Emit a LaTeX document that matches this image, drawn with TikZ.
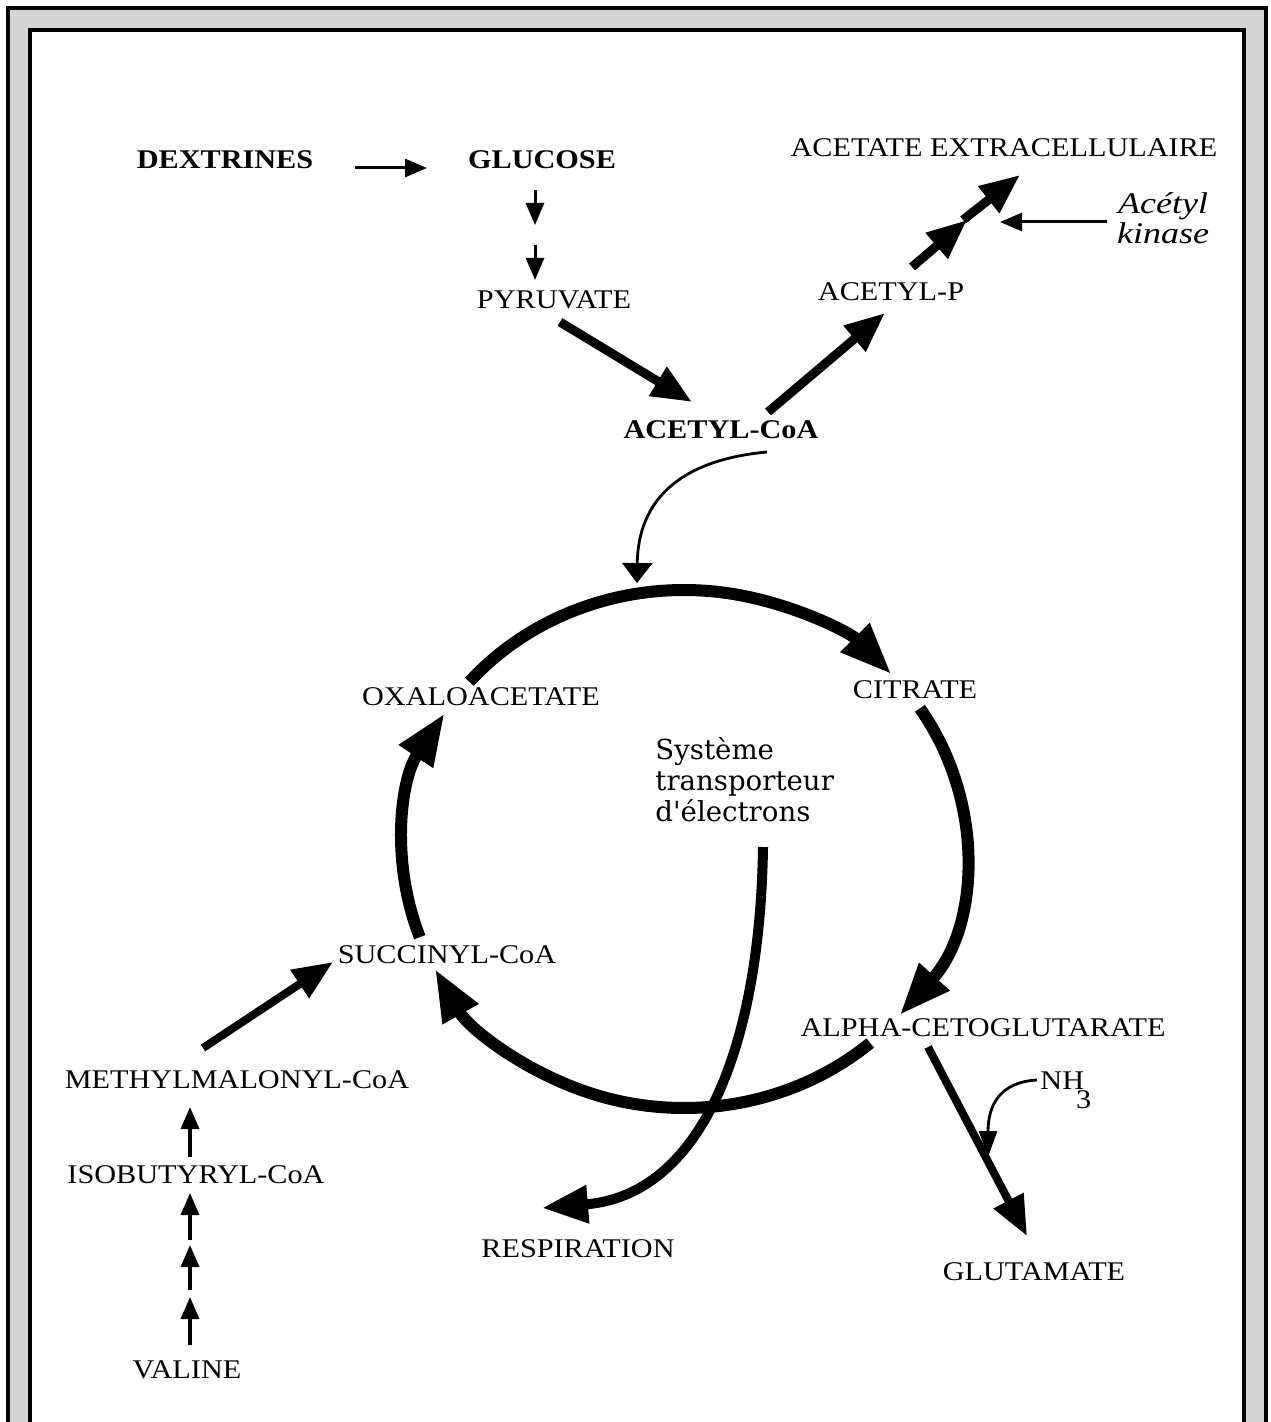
\documentclass[tikz,border=0pt]{standalone}
\usepackage{fontspec}
\setmainfont[FakeStretch=1.12]{Liberation Serif}
\newfontfamily\sysfont{DejaVu Serif}
\newfontfamily\kinfont[FakeStretch=1.2]{Liberation Serif}
\usetikzlibrary{arrows.meta}
\begin{document}
\begin{tikzpicture}[x=0.5pt,y=-0.5pt,
  lbl/.style={font=\fontsize{13.5}{15.5}\selectfont, inner sep=0pt},
  blbl/.style={font=\fontsize{13.5}{15.5}\selectfont\bfseries, inner sep=0pt},
  cyc/.style={line width=6pt, -{Triangle[length=26pt,width=19pt]}},
  resp/.style={line width=5pt, -{Triangle[length=23pt,width=18pt]}},
  fat/.style={line width=4.5pt, -{Triangle[length=20pt,width=16pt]}},
  thinarr/.style={line width=1.5pt, -{Triangle[length=11pt,width=9pt]}},
  curvarr/.style={line width=1.4pt, -{Triangle[length=10pt,width=15pt]}},
  nharr/.style={line width=1.4pt, -{Triangle[length=13pt,width=9pt]}}
]
\useasboundingbox (0,0) rectangle (1270,1422);
\clip (0,0) rectangle (1270,1422);
% frame
\fill[black!17] (8,8.5) rectangle (1266,1450);
\fill[white] (30,30) rectangle (1244,1450);
\draw[line width=2pt] (8,1450) -- (8,8.5) -- (1266,8.5) -- (1266,1450);
\draw[line width=2pt] (30,1450) -- (30,30) -- (1244,30) -- (1244,1450);

% text nodes
\node[blbl] (dex) at (225,160) {DEXTRINES};
\node[blbl] (glu) at (542,160) {GLUCOSE};
\node[lbl] (pyr) at (554,300) {PYRUVATE};
\node[blbl] (acoa) at (721,430) {ACETYL-CoA};
\node[lbl] (acp) at (891,292) {ACETYL-P};
\node[lbl] (acet) at (1004,148) {ACETATE EXTRACELLULAIRE};
\node[font=\kinfont\itshape\fontsize{15}{15}\selectfont, align=center, inner sep=0pt] (kin) at (1163,218) {Acétyl\\kinase};
\node[lbl] (oxa) at (481,697) {OXALOACETATE};
\node[lbl] (cit) at (915,690) {CITRATE};
\node[anchor=north west, align=left, inner sep=0pt, font=\sysfont\fontsize{13.8}{15.5}\selectfont] (sys) at (655,737) {Système\\transporteur\\d\textquotesingle électrons};
\node[lbl] (suc) at (447,955) {SUCCINYL-CoA};
\node[lbl] (alpha) at (983,1028) {ALPHA-CETOGLUTARATE};
\node[lbl] (methyl) at (237,1080) {METHYLMALONYL-CoA};
\node[lbl] (isob) at (196,1175) {ISOBUTYRYL-CoA};
\node[lbl] (resp) at (578,1249) {RESPIRATION};
\node[lbl] (glut) at (1034,1272) {GLUTAMATE};
\node[lbl] (val) at (187,1370) {VALINE};
\node[lbl, anchor=west] (nh) at (1040,1090) {NH\kern-4pt\raisebox{-9.5pt}{3}};

% coordinates
\coordinate (C) at (684,849);
\coordinate (d1) at (355,168); \coordinate (d2) at (427,168);
\coordinate (g1) at (535,190); \coordinate (g2) at (535,225);
\coordinate (g3) at (535,245); \coordinate (g4) at (535,280);
\coordinate (p1) at (560,322); \coordinate (p2) at (692,402);
\coordinate (a1) at (768,412); \coordinate (a2) at (885,313);
\coordinate (e1) at (912,267); \coordinate (e2) at (967,220);
\coordinate (e3) at (963,220); \coordinate (e4) at (1020,175);
\coordinate (k1) at (1107,222); \coordinate (k2) at (1000,222);
\coordinate (c1) at (767,452); \coordinate (c2) at (637,583);
\coordinate (r1) at (763,847); \coordinate (r2) at (542,1208);
\coordinate (u1) at (928,1047); \coordinate (u2) at (1027,1236);
\coordinate (n1) at (1037,1080); \coordinate (n2) at (988,1157);
\coordinate (m1) at (203,1048); \coordinate (m2) at (333,962);
\coordinate (v1) at (190,1157); \coordinate (v2) at (190,1107);
\coordinate (v3) at (190,1240); \coordinate (v4) at (190,1193);
\coordinate (v5) at (190,1290); \coordinate (v6) at (190,1245);
\coordinate (v7) at (190,1345); \coordinate (v8) at (190,1297);

% top pathway
\draw[thinarr] (d1) -- (d2);
\draw[thinarr] (g1) -- (g2);
\draw[thinarr] (g3) -- (g4);
\draw[fat] (p1) -- (p2);
\draw[fat] (a1) -- (a2);
\draw[fat] (e1) -- (e2);
\draw[fat] (e3) -- (e4);
\draw[thinarr] (k1) -- (k2);
\draw[curvarr] (c1) .. controls (680,460) and (638,500) .. (c2);

% cycle
\draw[cyc] ([shift={(139.8:140.5pt and 129.5pt)}]C) arc[start angle=139.8, end angle=42.4, x radius=140.5pt, y radius=129.5pt];
\draw[cyc] ([shift={(32.9:140.5pt and 129.5pt)}]C) arc[start angle=32.9, end angle=-39.9, x radius=140.5pt, y radius=129.5pt];
\draw[cyc] ([shift={(-48.5:140.5pt and 129.5pt)}]C) arc[start angle=-48.5, end angle=-152.4, x radius=140.5pt, y radius=129.5pt];
\draw[cyc] ([shift={(199.9:140.5pt and 129.5pt)}]C) arc[start angle=199.9, end angle=148.4, x radius=140.5pt, y radius=129.5pt];

% respiration
\draw[resp] (r1) .. controls (760,1050) and (700,1195) .. (r2);

% glutamate
\draw[fat, line width=4pt] (u1) -- (u2);
\draw[nharr] (n1) .. controls (1000,1082) and (988,1105) .. (n2);

% valine pathway
\draw[fat, line width=4pt] (m1) -- (m2);
\draw[thinarr, line width=1.7pt] (v1) -- (v2);
\draw[thinarr, line width=1.7pt] (v3) -- (v4);
\draw[thinarr, line width=1.7pt] (v5) -- (v6);
\draw[thinarr, line width=1.7pt] (v7) -- (v8);
\end{tikzpicture}
\end{document}
